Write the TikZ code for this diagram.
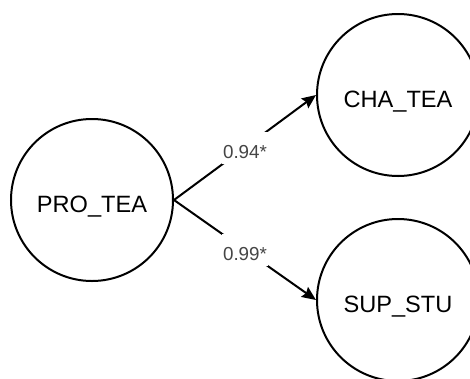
\documentclass[tikz,border=0pt]{standalone}
\usepackage{fontspec}
\setmainfont{Liberation Sans}
\usepackage{tikz}
\definecolor{LabelGrey}{rgb}{0.27, 0.27, 0.27}
\usetikzlibrary{arrows.meta,positioning}
\tikzset{
    construct/.style={circle, draw, line width=2pt, minimum size=162pt, inner sep=0pt, text height=25pt, text depth=0pt, font=\fontsize{23.6}{28}\selectfont},
    loading/.style={->, >={Stealth[length=14pt, width=12pt, inset=2pt]}, line width=2pt},
    weight/.style={fill=white, text=LabelGrey, inner xsep=1pt, minimum height=32pt, text height=21pt, text depth=0pt, font=\fontsize{18.8}{22}\selectfont}
}

\begin{document}
\begin{tikzpicture}[x=1pt, y=-1pt]
\useasboundingbox (0,0) rectangle (470,378);
%draw the latent variables
\node[construct] (pro) at (92,200) {PRO\_TEA};
\node[construct] (cha) at (398,95) {CHA\_TEA};
\node[construct] (sup) at (398,300) {SUP\_STU};

% draw the paths with their loadings
\draw[loading] (pro.east) -- node[weight]{0.94*} (cha.west);
\draw[loading] (pro.east) -- node[weight]{0.99*} (sup.west);
\end{tikzpicture}
\end{document}
